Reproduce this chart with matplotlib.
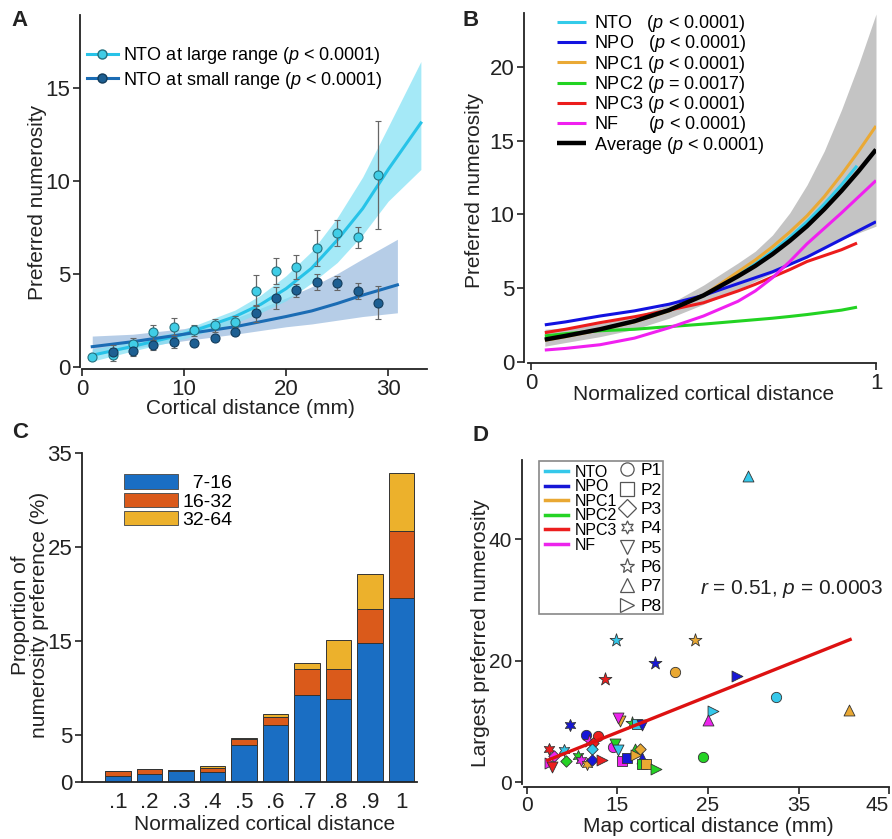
import matplotlib
matplotlib.use("Agg")
import matplotlib.pyplot as plt
from matplotlib.lines import Line2D
from matplotlib.patches import Patch, Rectangle

plt.rcParams['font.family'] = ['Liberation Sans', 'DejaVu Sans']
plt.rcParams['mathtext.fontset'] = 'custom'
plt.rcParams['mathtext.rm'] = 'Liberation Sans'
plt.rcParams['mathtext.it'] = 'Liberation Sans:italic'

# ---------------------------------------------------------------------------
# Panel A data: preferred numerosity vs cortical distance (NTO)
# ---------------------------------------------------------------------------
a_x_large = [1, 3, 5, 7, 9, 11, 13, 15, 17, 19, 21, 23, 25, 27, 29]
a_large = [0.55, 0.65, 1.25, 1.85, 2.15, 1.97, 2.22, 2.42, 4.09, 5.13, 5.36, 6.38, 7.19, 6.95, 10.3]
a_large_err = [0.12, 0.35, 0.3, 0.4, 0.45, 0.3, 0.35, 0.3, 0.85, 0.7, 0.65, 0.95, 0.7, 0.55, 2.9]
a_x_small = [3, 5, 7, 9, 11, 13, 15, 17, 19, 21, 23, 25, 27, 29]
a_small = [0.82, 0.87, 1.17, 1.31, 1.29, 1.56, 1.88, 2.87, 3.7, 4.1, 4.55, 4.5, 4.07, 3.45]
a_small_err = [0.35, 0.3, 0.25, 0.3, 0.15, 0.12, 0.15, 0.45, 0.6, 0.35, 0.45, 0.4, 0.45, 0.87]

# fitted curves and confidence bands
a_fit_x_large = [1, 5, 10, 15, 17.5, 20, 22.5, 25, 27.5, 30, 33.2]
a_fit_large = [0.62, 1.1, 1.75, 2.7, 3.35, 4.2, 5.3, 6.8, 8.5, 10.6, 13.1]
a_band_large_lo = [0.3, 0.85, 1.5, 2.35, 2.9, 3.55, 4.5, 5.6, 7.1, 8.9, 10.6]
a_band_large_hi = [0.95, 1.35, 2.0, 3.05, 3.85, 4.9, 6.2, 8.0, 10.2, 12.9, 16.4]
a_fit_x_small = [1, 5, 10, 15, 20, 22.5, 25, 27.5, 30.9]
a_fit_small = [1.08, 1.35, 1.75, 2.15, 2.7, 3.0, 3.4, 3.85, 4.4]
a_band_small_lo = [0.7, 1.0, 1.4, 1.75, 2.15, 2.3, 2.5, 2.7, 2.9]
a_band_small_hi = [1.65, 1.75, 2.05, 2.6, 3.7, 4.3, 5.0, 5.8, 6.85]

# ---------------------------------------------------------------------------
# Panel B data: fitted curves per map
# ---------------------------------------------------------------------------
b_x = [0.04, 0.1, 0.2, 0.3, 0.4, 0.5, 0.6, 0.65, 0.7, 0.75, 0.8, 0.85, 0.9, 0.95, 1.0]
b_x_short = [0.04, 0.1, 0.2, 0.3, 0.4, 0.5, 0.6, 0.65, 0.7, 0.75, 0.8, 0.85, 0.9, 0.945]
b_nto = [1.5, 1.75, 2.2, 2.75, 3.5, 4.5, 5.9, 6.65, 7.5, 8.45, 9.5, 10.7, 12.0, 13.3]
b_npo = [2.5, 2.7, 3.1, 3.45, 3.9, 4.5, 5.3, 5.7, 6.1, 6.6, 7.1, 7.7, 8.3, 8.9, 9.5]
b_npc1 = [1.45, 1.7, 2.15, 2.7, 3.45, 4.5, 6.1, 6.9, 7.8, 8.8, 9.9, 11.2, 12.7, 14.3, 16.0]
b_npc2 = [1.75, 1.9, 2.1, 2.2, 2.38, 2.55, 2.75, 2.85, 2.95, 3.07, 3.2, 3.35, 3.5, 3.7]
b_npc3 = [1.97, 2.2, 2.65, 3.05, 3.5, 4.0, 4.8, 5.25, 5.75, 6.25, 6.8, 7.2, 7.6, 8.05]
b_nf = [0.79, 0.9, 1.15, 1.6, 2.3, 3.1, 4.1, 4.8, 5.7, 6.8, 8.0, 9.05, 10.1, 11.2, 12.3]
b_avg = [1.5, 1.75, 2.2, 2.75, 3.5, 4.5, 5.8, 6.5, 7.3, 8.2, 9.2, 10.35, 11.6, 12.95, 14.4]
b_band_lo = [1.05, 1.3, 1.7, 2.2, 2.95, 3.9, 4.9, 5.45, 6.0, 6.6, 7.2, 7.75, 8.3, 8.75, 9.2]
b_band_hi = [2.2, 2.3, 2.6, 3.05, 3.9, 5.2, 6.7, 7.5, 8.6, 10.1, 12.0, 14.3, 17.1, 20.2, 23.6]

# ---------------------------------------------------------------------------
# Panel C data: stacked proportions
# ---------------------------------------------------------------------------
c_x = [0.1, 0.2, 0.3, 0.4, 0.5, 0.6, 0.7, 0.8, 0.9, 1.0]
c_labels = ['.1', '.2', '.3', '.4', '.5', '.6', '.7', '.8', '.9', '1']
c_7_16 = [0.6, 0.9, 1.14, 1.07, 3.9, 6.04, 9.24, 8.88, 14.74, 19.6]
c_16_32 = [0.57, 0.52, 0.16, 0.46, 0.7, 0.89, 2.73, 3.09, 3.63, 7.15]
c_32_64 = [0.0, 0.0, 0.0, 0.17, 0.1, 0.35, 0.71, 3.13, 3.73, 6.15]

# ---------------------------------------------------------------------------
# Panel D data: largest preferred numerosity vs map distance
# ---------------------------------------------------------------------------
d_region = ['NTO', 'NTO', 'NPC1', 'NPO', 'NPC1', 'NPC3', 'NPO', 'NTO', 'NPC1', 'NTO',
            'NF', 'NPO', 'NPC1', 'NF', 'NPC2', 'NTO', 'NPO', 'NPO', 'NPC3', 'NF',
            'NPC3', 'NTO', 'NF', 'NPC2', 'NTO', 'NPC2', 'NTO', 'NPC3', 'NF', 'NF',
            'NPC3', 'NPC2', 'NPC2', 'NF', 'NPC1', 'NPO', 'NPC3', 'NF', 'NPO', 'NPC2',
            'NPC1', 'NPC1', 'NPO', 'NPC2', 'NPC1', 'NPC2']
d_subject = ['P7', 'P6', 'P6', 'P6', 'P1', 'P6', 'P8', 'P1', 'P7', 'P8',
             'P7', 'P4', 'P5', 'P5', 'P6', 'P2', 'P5', 'P1', 'P1', 'P6',
             'P3', 'P3', 'P1', 'P5', 'P5', 'P1', 'P4', 'P4', 'P3', 'P8',
             'P5', 'P3', 'P4', 'P4', 'P4', 'P3', 'P8', 'P2', 'P2', 'P7',
             'P8', 'P3', 'P7', 'P2', 'P2', 'P8']
d_x = [29.4, 14.8, 23.6, 19.1, 21.3, 13.6, 28.2, 32.5, 40.6, 25.5,
       25.0, 9.7, 15.3, 15.1, 16.6, 17.2, 17.7, 11.5, 12.9, 11.8,
       12.3, 12.2, 14.5, 14.7, 15.1, 24.4, 9.1, 7.4, 8.0, 7.5,
       7.8, 9.3, 10.6, 11.0, 11.6, 12.15, 13.3, 15.5, 16.0, 16.9,
       17.0, 17.5, 17.7, 17.7, 18.1, 19.3]
d_y = [50.4, 23.5, 23.5, 19.6, 18.2, 17.0, 17.5, 14.0, 11.9, 11.7,
       10.3, 9.4, 10.1, 10.5, 9.8, 9.6, 9.4, 7.7, 7.6, 6.7,
       6.5, 5.4, 5.8, 6.3, 5.3, 4.1, 5.3, 5.5, 4.3, 3.1,
       2.5, 3.5, 4.3, 3.6, 2.9, 3.6, 3.7, 3.5, 3.9, 5.4,
       4.4, 5.5, 3.9, 3.0, 3.0, 2.2]
d_fit_x = [7.3, 40.7]
d_fit_y = [3.6, 23.5]

region_colors = {'NTO': '#35c8ea', 'NPO': '#1717d6', 'NPC1': '#e9a833',
                 'NPC2': '#25d325', 'NPC3': '#ec1e1e', 'NF': '#ec24ec'}
subject_markers = {'P1': 'o', 'P2': 's', 'P3': 'D', 'P4': (6, 1, 0),
                   'P5': 'v', 'P6': '*', 'P7': '^', 'P8': '>'}
marker_sizes = {'P1': 55, 'P2': 42, 'P3': 34, 'P4': 75,
                'P5': 62, 'P6': 95, 'P7': 62, 'P8': 62}

W, H = 892, 839
fig = plt.figure(figsize=(W / 100, H / 100), dpi=100)


def px_axes(left, top, right, bottom):
    return fig.add_axes([left / W, 1 - bottom / H, (right - left) / W, (bottom - top) / H])


def style_axes(ax, size=16):
    for s in ['top', 'right']:
        ax.spines[s].set_visible(False)
    for s in ['left', 'bottom']:
        ax.spines[s].set_linewidth(1.3)
        ax.spines[s].set_color('#222222')
    ax.tick_params(direction='out', length=5, width=1.2, labelsize=size, colors='#222222', pad=2)


def label(x, y, text, size=15, rot=0, **kw):
    fig.text(x / W, 1 - y / H, text, ha='center', va='center', fontsize=size, rotation=rot,
             color='#222222', **kw)


# ---------------------------- Panel A -------------------------------------
ax = px_axes(80, 15, 427, 369)
style_axes(ax)
ax.fill_between(a_fit_x_small, a_band_small_lo, a_band_small_hi, color='#9ebde0', alpha=0.75, lw=0)
ax.fill_between(a_fit_x_large, a_band_large_lo, a_band_large_hi, color='#7fe1f5', alpha=0.7, lw=0)
ax.plot(a_fit_x_large, a_fit_large, color='#27c3e8', lw=2.2)
ax.plot(a_fit_x_small, a_fit_small, color='#1b6cb4', lw=2.2)
ax.errorbar(a_x_large, a_large, yerr=a_large_err, fmt='o', ms=6.5, mfc='#40cde6', mec='#23707f',
            mew=0.8, ecolor='#666666', elinewidth=0.9, capsize=2.2, capthick=0.9)
ax.errorbar(a_x_small, a_small, yerr=a_small_err, fmt='o', ms=6.5, mfc='#1d5f92', mec='#123c5c',
            mew=0.8, ecolor='#666666', elinewidth=0.9, capsize=2.2, capthick=0.9)
ax.set_xlim(-0.2, 33.8)
ax.set_ylim(-0.12, 18.9)
ax.spines['bottom'].set_bounds(0, 33.8)
ax.spines['left'].set_bounds(0, 18.9)
ax.set_xticks([0, 10, 20, 30])
ax.set_yticks([0, 5, 10, 15])
handles_a = [
    Line2D([], [], color='#27c3e8', lw=2.2, marker='o', ms=6.5, mfc='#40cde6', mec='#23707f'),
    Line2D([], [], color='#1b6cb4', lw=2.2, marker='o', ms=6.5, mfc='#1d5f92', mec='#123c5c'),
]
ax.legend(handles_a, [r'NTO at large range ($p$ < 0.0001)', r'NTO at small range ($p$ < 0.0001)'],
          loc='upper left', bbox_to_anchor=(0.02, 0.915), frameon=False, fontsize=13,
          handlelength=1.7, handletextpad=0.3, labelspacing=0.2, borderpad=0, borderaxespad=0)
label(250, 408, 'Cortical distance (mm)')
label(38, 202, 'Preferred numerosity', rot=90)
label(20, 21, 'A', size=16, weight='bold')

# ---------------------------- Panel B -------------------------------------
ax = px_axes(524, 13, 876, 363.3)
style_axes(ax)
ax.fill_between(b_x, b_band_lo, b_band_hi, color='#c4c4c4', lw=0)
b_lines = [
    (b_x_short, b_nto, '#33cbe9', 'NTO   ($p$ < 0.0001)'),
    (b_x, b_npo, '#1212e0', 'NPO   ($p$ < 0.0001)'),
    (b_x, b_npc1, '#eaa935', 'NPC1 ($p$ < 0.0001)'),
    (b_x_short, b_npc2, '#22d322', 'NPC2 ($p$ = 0.0017)'),
    (b_x_short, b_npc3, '#ec1c1c', 'NPC3 ($p$ < 0.0001)'),
    (b_x, b_nf, '#f020f0', 'NF      ($p$ < 0.0001)'),
]
for xs, ys, col, lab in b_lines:
    ax.plot(xs, ys, color=col, lw=2.2, label=lab, solid_capstyle='butt')
ax.plot(b_x, b_avg, color='black', lw=3.2, label='Average ($p$ < 0.0001)', solid_capstyle='butt')
ax.set_xlim(-0.0203, 1.0)
ax.set_ylim(-0.11, 23.67)
ax.spines['bottom'].set_bounds(-0.01, 1.0)
ax.spines['left'].set_bounds(0, 23.67)
ax.set_xticks([0, 1])
ax.set_xticklabels(['0', '1'])
ax.set_yticks([0, 5, 10, 15, 20])
ax.legend(loc='upper left', bbox_to_anchor=(0.095, 1.0), frameon=False, fontsize=13,
          handlelength=1.6, handletextpad=0.45, labelspacing=-0.04, borderpad=0, borderaxespad=0)
label(704, 395, 'Normalized cortical distance')
label(474, 190, 'Preferred numerosity', rot=90)
label(471, 21, 'B', size=16, weight='bold')

# ---------------------------- Panel C -------------------------------------
ax = px_axes(82, 453, 417, 782)
style_axes(ax)
c_colors = ['#1a6ec3', '#da5a1b', '#ecb12c']
bottom2 = [a + b for a, b in zip(c_7_16, c_16_32)]
ax.bar(c_x, c_7_16, width=0.08, color=c_colors[0], edgecolor='#333333', lw=0.7)
ax.bar(c_x, c_16_32, width=0.08, bottom=c_7_16, color=c_colors[1], edgecolor='#333333', lw=0.7)
ax.bar(c_x, c_32_64, width=0.08, bottom=bottom2, color=c_colors[2], edgecolor='#333333', lw=0.7)
ax.set_xlim(-0.0143, 1.049)
ax.set_ylim(0, 35)
ax.set_xticks(c_x)
ax.set_xticklabels(c_labels)
ax.set_yticks([0, 5, 15, 25, 35])
ax.tick_params(axis='x', length=0, pad=7)
handles_c = [Patch(facecolor=c, edgecolor='#555555', lw=0.7) for c in c_colors]
ax.legend(handles_c, ['  7-16', '16-32', '32-64'], loc='upper left', bbox_to_anchor=(0.125, 0.935),
          frameon=False, fontsize=14, handlelength=2.8, handleheight=0.75, handletextpad=0.2,
          labelspacing=0.02, borderpad=0, borderaxespad=0)
label(265, 825, 'Normalized cortical distance')
label(30, 615, 'Proportion of\nnumerosity preference (%)', rot=90, linespacing=0.95)
label(20, 432, 'C', size=16, weight='bold')

# ---------------------------- Panel D -------------------------------------
ax = px_axes(522, 460, 889.3, 786.7)
style_axes(ax, size=15)
for reg, sub, x, y in zip(d_region, d_subject, d_x, d_y):
    ax.scatter(x, y, s=marker_sizes[sub], marker=subject_markers[sub], c=region_colors[reg],
               edgecolors='#333333', linewidths=0.6, zorder=3)
ax.plot(d_fit_x, d_fit_y, color='#dd1111', lw=2.4, zorder=4)
ax.set_xlim(4.45, 45.03)
ax.set_ylim(-0.77, 53.1)
ax.spines['bottom'].set_bounds(4.7, 45.03)
ax.spines['left'].set_bounds(-0.3, 53.1)
ax.set_xticks([5, 15, 25, 35, 45])
ax.set_xticklabels(['0', '15', '25', '35', '45'])
ax.get_xticklabels()[-1].set_horizontalalignment('right')
ax.set_yticks([0, 20, 40])
ax.text(0.984, 0.605, '$r$ = 0.51, $p$ = 0.0003', transform=ax.transAxes, ha='right', va='center',
        fontsize=15, color='#222222')

# legend: box, colour column, subject column
ax.add_patch(Rectangle((0.046, 0.529), 0.339, 0.468, transform=ax.transAxes, fill=False,
                       edgecolor='#888888', lw=1.2, zorder=5))
reg_handles = [Line2D([], [], color=region_colors[r], lw=2.5) for r in region_colors]
leg1 = ax.legend(reg_handles, list(region_colors), loc='upper left', bbox_to_anchor=(0.063, 0.985),
                 frameon=False, fontsize=11.5, handlelength=1.45, handletextpad=0.4,
                 labelspacing=-0.03, borderpad=0, borderaxespad=0)
ax.add_artist(leg1)
sub_handles = [Line2D([], [], ls='none', marker=subject_markers[s], ms=9.5 if s != 'P6' else 11,
                      mfc='white', mec='#555555', mew=0.9) for s in subject_markers]
ax.legend(sub_handles, list(subject_markers), loc='upper left', bbox_to_anchor=(0.262, 0.99),
          frameon=False, fontsize=12.5, handlelength=1.0, handletextpad=0.3,
          labelspacing=0.24, borderpad=0, borderaxespad=0)
label(708, 826, 'Map cortical distance (mm)')
label(480, 633, 'Largest preferred numerosity', rot=90)
label(480, 435, 'D', size=16, weight='bold')

fig.savefig('out.png', dpi=100)
